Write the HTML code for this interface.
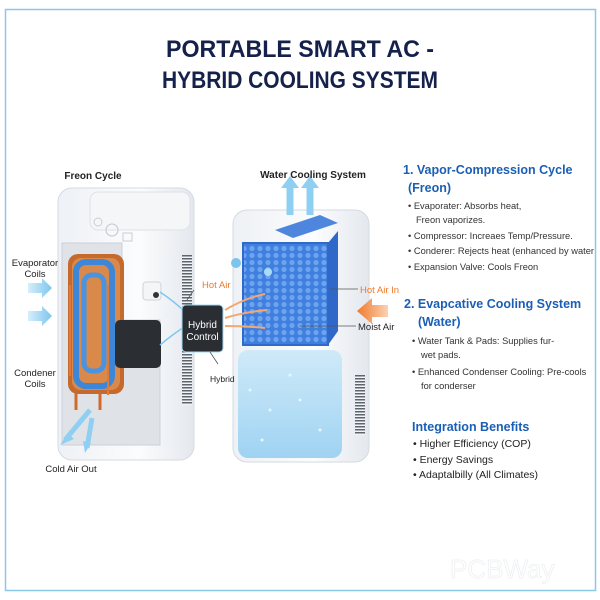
<!DOCTYPE html>
<html><head><meta charset="utf-8"><style>
body{margin:0;width:600px;height:600px;background:#fff;overflow:hidden;font-family:"Liberation Sans",sans-serif}
svg{position:absolute;left:0;top:0}
</style></head><body>
<svg width="600" height="600" viewBox="0 0 600 600" xmlns="http://www.w3.org/2000/svg" font-family="Liberation Sans, sans-serif">
<defs>
<linearGradient id="body" x1="0" x2="1"><stop offset="0" stop-color="#eef1f5"/><stop offset="0.6" stop-color="#fbfcfd"/><stop offset="1" stop-color="#e4e8ee"/></linearGradient>
<linearGradient id="water" x1="0" y1="0" x2="0" y2="1"><stop offset="0" stop-color="#cfeaf9"/><stop offset="1" stop-color="#9fd3f2"/></linearGradient>
<linearGradient id="arrowb" x1="0" x2="1"><stop offset="0" stop-color="#d6eefb"/><stop offset="1" stop-color="#7cc6ee"/></linearGradient>
<linearGradient id="arrowo" x1="1" x2="0"><stop offset="0" stop-color="#fbd2b3"/><stop offset="1" stop-color="#f07a2a"/></linearGradient>
<pattern id="hex" width="8" height="7" patternUnits="userSpaceOnUse"><rect width="8" height="7" fill="#3f7fe0"/><circle cx="4" cy="3.5" r="2.6" fill="#6ea4ee"/></pattern>
<pattern id="vent" width="4" height="3" patternUnits="userSpaceOnUse"><rect width="4" height="3" fill="#f2f4f6"/><rect width="4" height="1.5" fill="#5c6570"/></pattern>
</defs>
<rect x="5.5" y="9.5" width="590" height="581" fill="#fff" stroke="#8cc8e8" stroke-width="1.5"/>
<text x="300" y="57" text-anchor="middle" font-size="24" font-weight="bold" fill="#15214a" textLength="268" lengthAdjust="spacingAndGlyphs">PORTABLE SMART AC -</text>
<text x="300" y="88" text-anchor="middle" font-size="24" font-weight="bold" fill="#15214a" textLength="276" lengthAdjust="spacingAndGlyphs">HYBRID COOLING SYSTEM</text>

<!-- left unit -->
<rect x="58" y="188" width="136" height="272" rx="14" fill="url(#body)" stroke="#d5dbe2"/>
<rect x="90" y="192" width="100" height="38" rx="8" fill="#f4f6f8" stroke="#dde2e8"/>
<circle cx="98" cy="222" r="4" fill="none" stroke="#c8ced6"/><circle cx="112" cy="230" r="6" fill="none" stroke="#c0c7cf"/><rect x="123" y="233" width="9" height="8" fill="none" stroke="#c8ced6"/>
<path d="M62 243 H122 V320 H160 V445 H62 Z" fill="#dfe3e8" stroke="#ccd2d9"/>
<rect x="182" y="255" width="10" height="150" fill="url(#vent)"/>
<rect x="68" y="254" width="56" height="140" rx="10" fill="#c56a2c"/>
<rect x="72" y="258" width="48" height="132" rx="9" fill="#d98a4a"/>
<rect x="76" y="262" width="36" height="124" rx="10" fill="none" stroke="#3d86d8" stroke-width="6"/>
<rect x="84" y="275" width="20" height="96" rx="8" fill="none" stroke="#4a93e0" stroke-width="5"/>
<path d="M70 285 V376 M108 285 V395" stroke="#e07a36" stroke-width="2" fill="none"/>
<path d="M76 393 V410 M100 393 V410" stroke="#d06a2a" stroke-width="3"/>
<rect x="115" y="320" width="46" height="48" rx="5" fill="#2b2e33"/>
<rect x="143" y="282" width="18" height="18" rx="3" fill="#f3f5f7" stroke="#cfd5dc"/>
<circle cx="156" cy="295" r="3" fill="#333"/>
<path d="M28 283 h14 v-5 l10 10 -10 10 v-5 h-14 z" fill="url(#arrowb)"/>
<path d="M28 311 h14 v-5 l10 10 -10 10 v-5 h-14 z" fill="url(#arrowb)"/>
<path d="M90 410 l-25 30 M92 418 l-5 30" stroke="#8fd0f2" stroke-width="5" fill="none"/>
<path d="M60 445 l8 -12 6 6 z M85 453 l-2 -12 8 2 z" fill="#8fd0f2"/>

<!-- right unit -->
<rect x="233" y="210" width="136" height="252" rx="14" fill="url(#body)" stroke="#d5dbe2"/>
<rect x="355" y="375" width="10" height="60" fill="url(#vent)"/>
<rect x="238" y="350" width="104" height="108" rx="10" fill="url(#water)"/>
<g fill="#e8f6fd"><circle cx="250" cy="390" r="1.5"/><circle cx="270" cy="410" r="1.5"/><circle cx="300" cy="400" r="1.5"/><circle cx="320" cy="430" r="1.5"/><circle cx="262" cy="440" r="1.5"/><circle cx="290" cy="375" r="1.5"/></g>
<path d="M290 185 v30 M310 185 v30" stroke="#8fd0f2" stroke-width="7"/>
<path d="M281 188 l9 -12 9 12 z M301 188 l9 -12 9 12 z" fill="#8fd0f2"/>
<path d="M275 230 l45 -15 18 8 -45 15 z" fill="#4d86dc"/>
<rect x="243" y="243" width="85" height="102" fill="url(#hex)" stroke="#2f6acb" stroke-width="2"/>
<path d="M328 243 l10 -12 v100 l-10 14 z" fill="#2f68c8"/>
<circle cx="236" cy="263" r="5" fill="#7cc4ee"/>
<circle cx="268" cy="272" r="4" fill="#a8dcf6"/>
<path d="M388 305 h-16 v-7 l-15 13 15 13 v-7 h16 z" fill="url(#arrowo)"/>
<path d="M225 310 q20 -12 40 -16 M225 318 q20 -6 42 -8 M225 326 q20 0 40 2" stroke="#f3a872" stroke-width="2" fill="none"/>
<path d="M160 292 q15 10 25 20 M160 345 q12 -10 24 -18" stroke="#7cc9ef" stroke-width="1.5" fill="none"/>

<!-- hybrid control -->
<rect x="182" y="305" width="41" height="47" rx="4" fill="#2a2d31" stroke="#9fd8f3"/>
<text x="202.5" y="328" text-anchor="middle" font-size="10" fill="#fff">Hybrid</text>
<text x="202.5" y="340" text-anchor="middle" font-size="10" fill="#fff">Control</text>
<path d="M187 300 l7 -10 M210 352 l8 12 M330 289 h28 M300 326 h56" stroke="#555" stroke-width="0.8"/>

<g font-size="10" fill="#222">
<text x="93" y="179" text-anchor="middle" font-weight="bold">Freon Cycle</text>
<text x="313" y="178" text-anchor="middle" font-weight="bold">Water Cooling System</text>
<text x="35" y="266" text-anchor="middle" font-size="9.5">Evaporator</text>
<text x="35" y="277" text-anchor="middle" font-size="9.5">Coils</text>
<text x="35" y="376" text-anchor="middle" font-size="9.5">Condener</text>
<text x="35" y="387" text-anchor="middle" font-size="9.5">Coils</text>
<text x="71" y="472" text-anchor="middle" font-size="9.5">Cold Air Out</text>
<text x="202" y="288" fill="#f07a2a" font-size="9.5">Hot Air</text>
<text x="360" y="293" fill="#f07a2a" font-size="9.5">Hot Air In</text>
<text x="358" y="330" font-size="9.5">Moist Air</text>
<text x="210" y="382" font-size="8.5">Hybrid</text>
</g>

<g fill="#1b5fb5" font-weight="bold" font-size="12.5">
<text x="403" y="174">1. Vapor-Compression Cycle</text>
<text x="408" y="192">(Freon)</text>
<text x="404" y="308">2. Evapcative Cooling System</text>
<text x="418" y="326">(Water)</text>
<text x="412" y="431">Integration Benefits</text>
</g>
<g fill="#333" font-size="9.3">
<text x="408" y="209">•  Evaporater: Absorbs heat,</text>
<text x="416" y="223">Freon vaporizes.</text>
<text x="408" y="239">•  Compressor: Increaes Temp/Pressure.</text>
<text x="408" y="254" textLength="186" lengthAdjust="spacingAndGlyphs">•  Conderer: Rejects heat (enhanced by water</text>
<text x="408" y="270">•  Expansion Valve: Cools Freon</text>
<text x="412" y="344">•  Water Tank &amp; Pads: Supplies fur-</text>
<text x="421" y="358">wet pads.</text>
<text x="412" y="375">•  Enhanced Condenser Cooling: Pre-cools</text>
<text x="421" y="389">for conderser</text>
</g>
<g fill="#222" font-size="10.5">
<text x="413" y="447">•  Higher Efficiency (COP)</text>
<text x="413" y="463">•  Energy Savings</text>
<text x="413" y="478">•  Adaptalbilly (All Climates)</text>
</g>
<text x="450" y="578" font-size="26" fill="none" stroke="#eceef0" stroke-width="0.7">PCBWay</text>
</svg>
</body></html>
